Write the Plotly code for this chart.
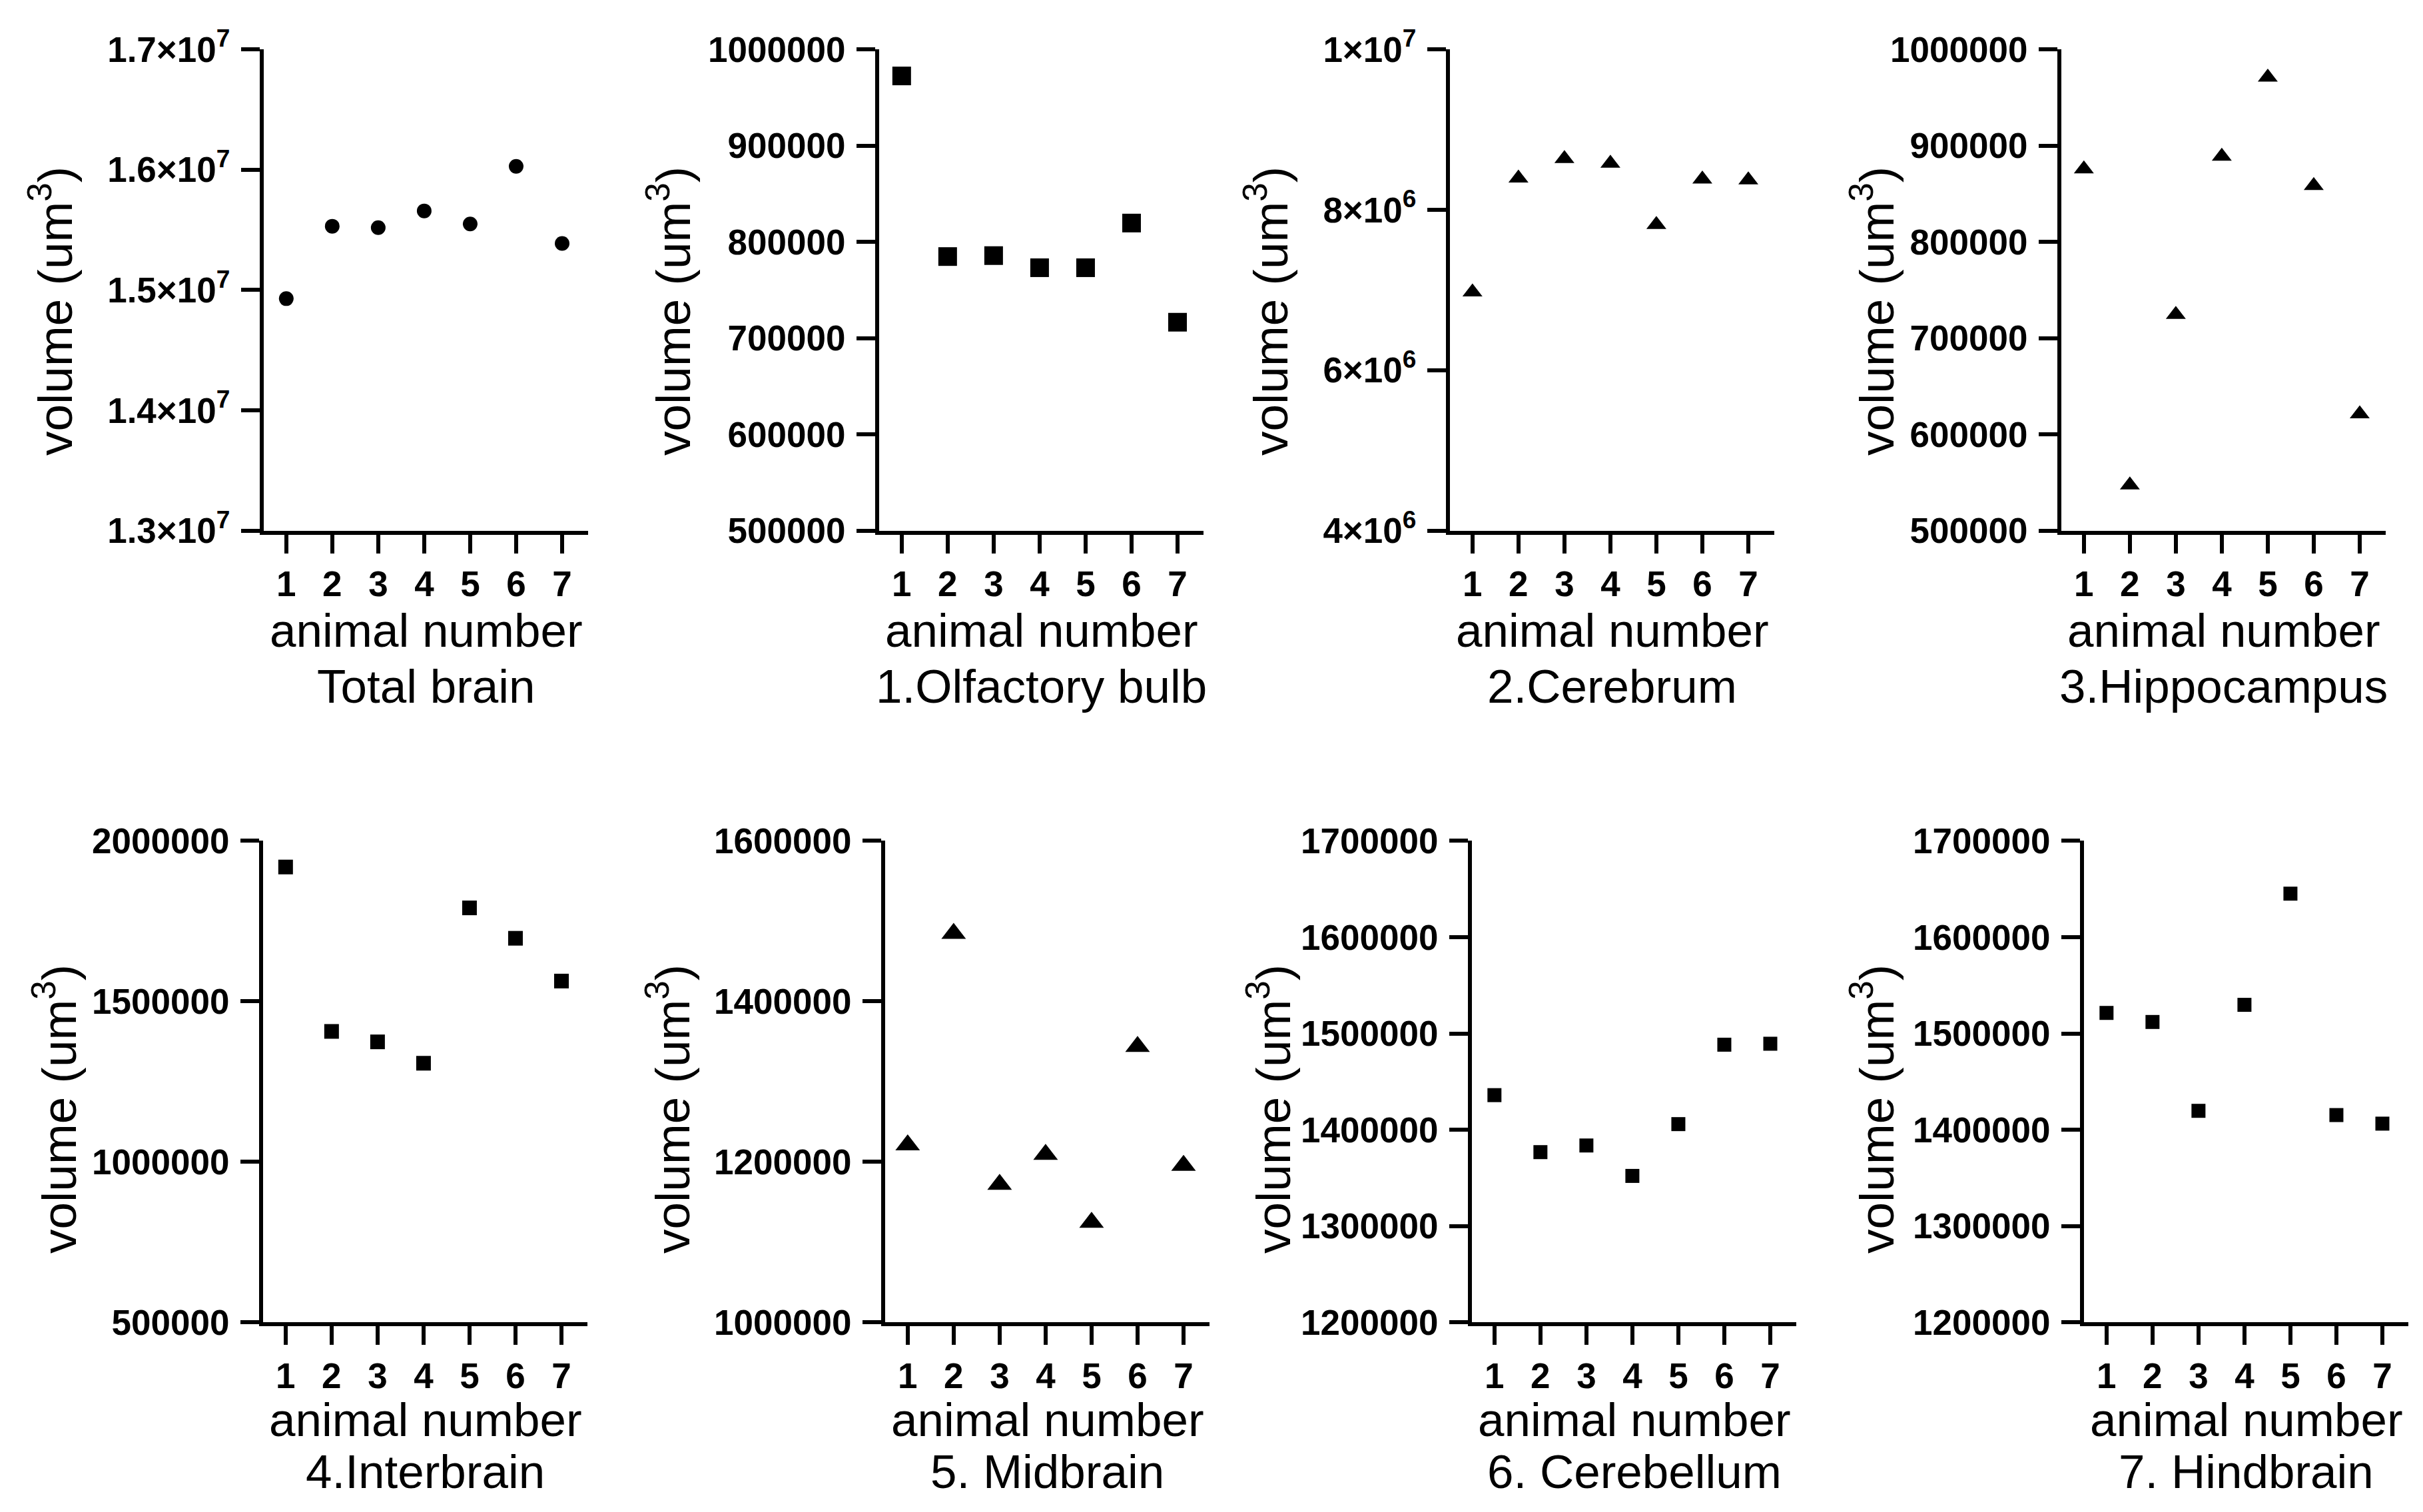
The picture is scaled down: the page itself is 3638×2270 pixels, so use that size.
import plotly.graph_objects as go

W, H = 3638, 2270

animals = [1, 2, 3, 4, 5, 6, 7]
x_ticklabels = ["1", "2", "3", "4", "5", "6", "7"]

total_brain = [14928600, 15530400, 15519000, 15657700, 15549600, 16027800, 15387700]
olfactory_bulb = [972400, 784800, 785800, 773200, 773200, 819600, 716600]
cerebrum = [6974000, 8394000, 8638000, 8580000, 7815000, 8383000, 8371000]
hippocampus = [875800, 547400, 724600, 888900, 971000, 858500, 621300]
interbrain = [1918600, 1406300, 1373700, 1307100, 1791200, 1696500, 1563200]
midbrain = [1221000, 1484500, 1171800, 1209100, 1124400, 1343600, 1195500]
cerebellum = [1435900, 1376700, 1383600, 1352000, 1405800, 1488300, 1489300]
hindbrain = [1521300, 1511900, 1419600, 1529700, 1645200, 1415200, 1406300]

panel_names = ["Total brain", "1.Olfactory bulb", "2.Cerebrum", "3.Hippocampus",
               "4.Interbrain", "5. Midbrain", "6. Cerebellum", "7. Hindbrain"]
series = [total_brain, olfactory_bulb, cerebrum, hippocampus,
          interbrain, midbrain, cerebellum, hindbrain]

tv_total = [13000000, 14000000, 15000000, 16000000, 17000000]
tt_total = ["1.3×10<sup>7</sup>", "1.4×10<sup>7</sup>", "1.5×10<sup>7</sup>",
            "1.6×10<sup>7</sup>", "1.7×10<sup>7</sup>"]
tv_olf = [500000, 600000, 700000, 800000, 900000, 1000000]
tt_olf = ["500000", "600000", "700000", "800000", "900000", "1000000"]
tv_cer = [4000000, 6000000, 8000000, 10000000]
tt_cer = ["4×10<sup>6</sup>", "6×10<sup>6</sup>", "8×10<sup>6</sup>", "1×10<sup>7</sup>"]
tv_hip = tv_olf
tt_hip = tt_olf
tv_int = [500000, 1000000, 1500000, 2000000]
tt_int = ["500000", "1000000", "1500000", "2000000"]
tv_mid = [1000000, 1200000, 1400000, 1600000]
tt_mid = ["1000000", "1200000", "1400000", "1600000"]
tv_cbl = [1200000, 1300000, 1400000, 1500000, 1600000, 1700000]
tt_cbl = ["1200000", "1300000", "1400000", "1500000", "1600000", "1700000"]
tv_hind = tv_cbl
tt_hind = tt_cbl

tickvals = [tv_total, tv_olf, tv_cer, tv_hip, tv_int, tv_mid, tv_cbl, tv_hind]
ticktexts = [tt_total, tt_olf, tt_cer, tt_hip, tt_int, tt_mid, tt_cbl, tt_hind]
yranges = [[13000000, 17000000], [500000, 1000000], [4000000, 10000000], [500000, 1000000],
           [500000, 2000000], [1000000, 1600000], [1200000, 1700000], [1200000, 1700000]]

symbols = ["circle", "square", "triangle-up", "triangle-up",
           "square", "triangle-up", "square", "square"]
msizes = [22, 28, 26, 26, 22, 32, 21, 21]

# layout (pixels)
lefts = [388, 1312, 2169, 3087, 387, 1321, 2202, 3121]
pw = 487
rows = [(29, 774), (29, 774), (29, 774), (29, 774),
        (1254, 1999), (1254, 1999), (1254, 1999), (1254, 1999)]
ytitle_x = [69, 997, 1894, 2804, 75, 996, 1898, 2804]
ytitle_y = [434, 434, 434, 434, 1669, 1669, 1669, 1669]
xtitle_y = [(928, 1015)] * 4 + [(2150, 2230)] * 4

FONT = "Liberation Sans, Arial, sans-serif"

fig = go.Figure()
annotations = []
layout = {}
for i in range(8):
    k = "" if i == 0 else str(i + 1)
    fig.add_trace(go.Scatter(
        x=animals, y=series[i], mode="markers",
        marker=dict(symbol=symbols[i], size=msizes[i], color="black", line=dict(width=0)),
        xaxis="x" + k, yaxis="y" + k, cliponaxis=False, showlegend=False))
    x0 = lefts[i] / W
    x1 = (lefts[i] + pw) / W
    top, bot = rows[i]
    layout["xaxis" + k] = dict(
        domain=[x0, x1], range=[0.51, 7.565], anchor="y" + k,
        tickvals=animals, ticktext=x_ticklabels,
        showline=True, linewidth=6, linecolor="black", mirror=False,
        ticks="outside", ticklen=28, tickwidth=6, tickcolor="black",
        showgrid=False, zeroline=False, ticklabelstandoff=1,
        tickfont=dict(family=FONT, size=53, color="black", weight="bold"))
    layout["yaxis" + k] = dict(
        domain=[1 - bot / H, 1 - top / H], range=yranges[i], anchor="x" + k,
        tickvals=tickvals[i], ticktext=ticktexts[i],
        showline=True, linewidth=6, linecolor="black",
        ticks="outside", ticklen=28, tickwidth=6, tickcolor="black",
        showgrid=False, zeroline=False, ticklabelstandoff=6,
        tickfont=dict(family=FONT, size=53, color="black", weight="bold"))
    cx = (lefts[i] + pw / 2) / W
    annotations.append(dict(
        text="volume (um<sup>3</sup>)", xref="paper", yref="paper",
        x=ytitle_x[i] / W, y=1 - ytitle_y[i] / H, xanchor="center", yanchor="middle",
        textangle=-90, showarrow=False, font=dict(family=FONT, size=73, color="black")))
    annotations.append(dict(
        text="animal number", xref="paper", yref="paper",
        x=cx, y=1 - xtitle_y[i][0] / H, xanchor="center", yanchor="middle",
        showarrow=False, font=dict(family=FONT, size=71, color="black")))
    annotations.append(dict(
        text=panel_names[i], xref="paper", yref="paper",
        x=cx, y=1 - xtitle_y[i][1] / H, xanchor="center", yanchor="middle",
        showarrow=False, font=dict(family=FONT, size=71, color="black")))

fig.update_layout(
    width=W, height=H, autosize=False, margin=dict(l=0, r=0, t=0, b=0),
    paper_bgcolor="white", plot_bgcolor="white", showlegend=False,
    annotations=annotations, **layout)

fig.write_html("out.html", config={"responsive": False})
